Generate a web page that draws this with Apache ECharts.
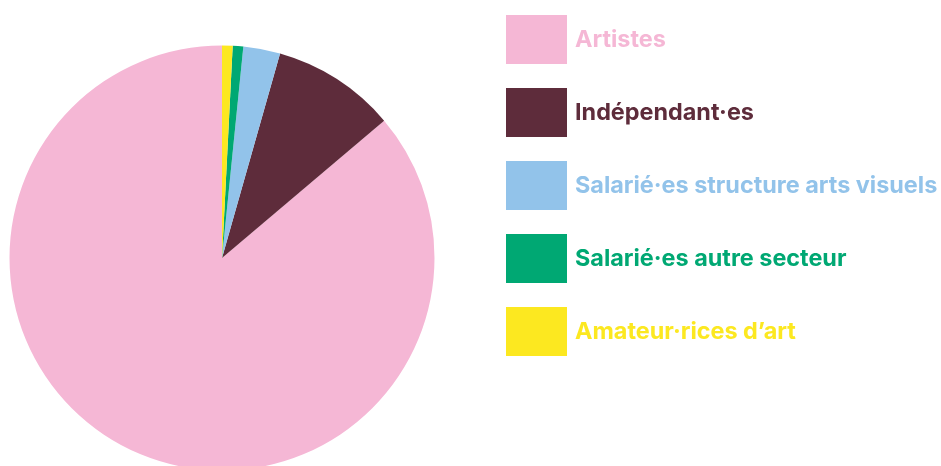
<!DOCTYPE html>
<html><head><meta charset="utf-8">
<script src="https://cdn.jsdelivr.net/npm/echarts@6/dist/echarts.min.js"></script>
<style>html,body{margin:0;padding:0;background:#fff}#c{width:941px;height:466px}</style>
</head><body><div id="c"></div>
<script>
const categories = ["Artistes", "Indépendant·es", "Salarié·es structure arts visuels", "Salarié·es autre secteur", "Amateur·rices d’art"];
const values = [86.1, 9.4, 2.8, 0.8, 0.8];
const colors = ["#F5B7D5", "#5E2C3B", "#92C3EA", "#00A873", "#FCE820"];

const chart = echarts.init(document.getElementById('c'), null, {renderer: 'canvas'});
chart.setOption({
  animation: false,
  color: colors,
  legend: {
    orient: 'vertical',
    left: 506,
    top: 15,
    padding: 0,
    itemWidth: 61,
    itemHeight: 49,
    itemGap: 24,
    icon: 'rect',
    selectedMode: false,
    data: categories.map((n, i) => ({name: n, textStyle: {color: colors[i]}})),
    textStyle: {fontFamily: 'Inter', fontWeight: 700, fontSize: 23.4, padding: [2, 0, 0, 3]}
  },
  series: [{
    type: 'pie',
    center: [222, 258],
    radius: 212.5,
    clockwise: false,
    startAngle: 90,
    label: {show: false},
    labelLine: {show: false},
    emphasis: {disabled: true},
    itemStyle: {borderWidth: 0},
    data: categories.map((n, i) => ({name: n, value: values[i]}))
  }]
});
</script></body></html>
